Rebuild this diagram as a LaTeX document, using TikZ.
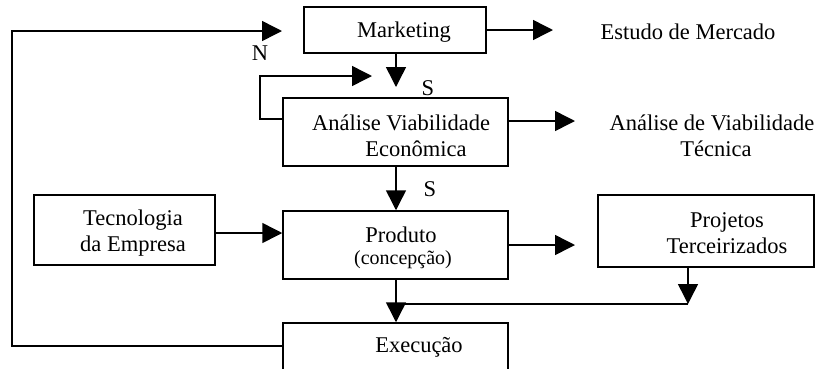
\documentclass[tikz,border=0pt]{standalone}
\usepackage{fontspec}
\setmainfont{Liberation Serif}
\usetikzlibrary{arrows.meta}
\begin{document}
\begin{tikzpicture}[x=1pt,y=-1pt,
  line width=1.5pt,
  txt/.style={font=\fontsize{22.5}{25.5}\selectfont, inner sep=0pt, align=center},
  boxnode/.style={draw, rectangle, inner sep=0pt, minimum width=#1},
  flow/.style={-{Triangle[length=20pt,width=20pt]}}
]
\useasboundingbox (0,0) rectangle (815,368);
\clip (0,0) rectangle (815,368);

% process boxes
\node[boxnode=182pt, minimum height=46pt] (mkt) at (395,30) {};
\node[txt] (mktt) at (404,32) {Marketing};

\node[boxnode=225pt, minimum height=68pt] (ana) at (395.5,132) {};
\node[txt] (anat) at (401,136) {Análise Viabilidade\\\hspace{30pt}Econômica};

\node[boxnode=181pt, minimum height=70pt] (tec) at (124.5,230) {};
\node[txt] (tect) at (133,233) {Tecnologia\\da Empresa};

\node[boxnode=225pt, minimum height=68pt] (prod) at (395.5,245) {};
\node[txt] (prodt) at (401,235) {Produto};
\node[txt, font=\fontsize{20}{24}\selectfont] (prodc) at (403,260) {(concepção)};

\node[boxnode=216pt, minimum height=72pt] (proj) at (706,231) {};
\node[txt] (projt) at (727,233) {Projetos\\Terceirizados};

\node[boxnode=225pt, minimum height=70pt] (exe) at (395.5,358) {};
\node[txt] (exet) at (419,347) {Execução};

% outputs
\node[txt] (estudo) at (688,32) {Estudo de Mercado};
\node[txt] (tecnica) at (712,136) {Análise de Viabilidade\\\hspace{8pt}Técnica};

% labels
\node[txt] (lN) at (260,53) {N};
\node[txt] (lS1) at (428,88) {S};
\node[txt] (lS2) at (430,189) {S};

% free ends of connectors
\coordinate (mktout) at (553,30);
\coordinate (anaout) at (575,121);
\coordinate (prodout) at (575,245);
\coordinate (mktin) at (396,87);
\coordinate (fbtip) at (282,31);
\coordinate (looptip) at (372,76);
\coordinate (join) at (396,304);

% connectors
\draw[flow] (mkt.east) -- (mktout);
\draw[flow] (mkt.south -| mktin) -- (mktin);
\draw[flow] (exe.west |- 0,346) -- (12,346) -- (12,31) -- (fbtip);
\draw[flow] (ana.west |- 0,119) -- (260,119) -- (260,76) -- (looptip);
\draw[flow] (ana.east |- anaout) -- (anaout);
\draw[flow] (ana.south -| mktin) -- (prod.north -| mktin);
\draw[flow] (tec.east |- 0,233) -- (prod.west |- 0,233);
\draw[flow] (prod.east) -- (prodout);
\draw[flow] (proj.south -| 688,0) -- (688,304);
\draw (688,304) -- (join);
\draw[flow] (prod.south -| join) -- (exe.north -| join);
\end{tikzpicture}
\end{document}
